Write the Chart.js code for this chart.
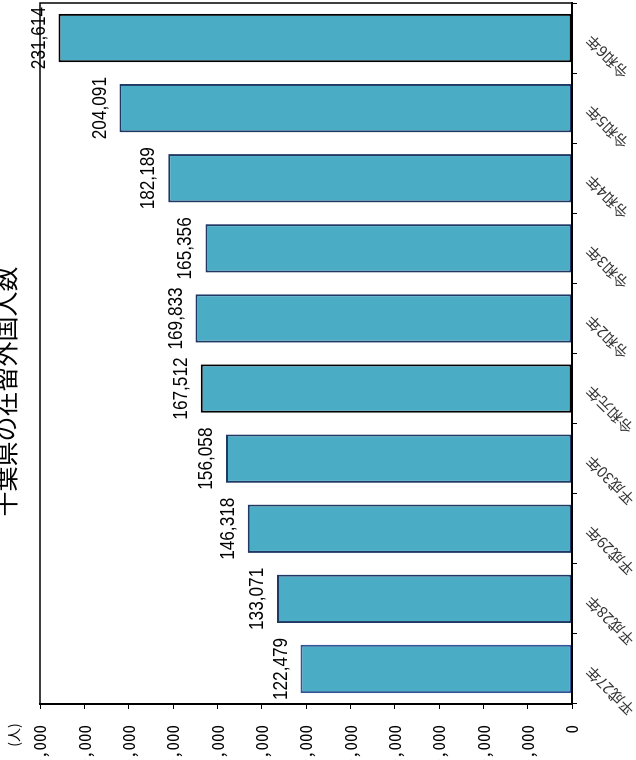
<!DOCTYPE html>
<html>
<head>
<meta charset="utf-8">
<script src="https://cdn.jsdelivr.net/npm/chart.js@4.4.1/dist/chart.umd.min.js"></script>
<style>
  html, body { margin: 0; padding: 0; background: #fff; overflow: hidden; width: 636px; height: 760px; }
  #wrap { position: absolute; left: 0; top: 0; width: 780px; height: 680px; transform-origin: 0 0; transform: matrix(0, -1, 1, 0, -10, 780); }
</style>
</head>
<body>
<div id="wrap"><canvas id="chart" width="780" height="680"></canvas></div>
<script>
const years = ['平成27年', '平成28年', '平成29年', '平成30年', '令和元年', '令和2年', '令和3年', '令和4年', '令和5年', '令和6年'];
const residents = [122479, 133071, 146318, 156058, 167512, 169833, 165356, 182189, 204091, 231614];
const edgeColors = ['#2f5597', '#1f3864', '#1f3864', '#1f3864', '#000000', '#1f3864', '#1f3864', '#1f3864', '#1f3864', '#000000'];
const axisMax = 240000;
const axisStep = 20000;

const latin = "'Liberation Sans', Arial, sans-serif";
const mono = "'Noto Sans Mono CJK JP', 'Liberation Sans', sans-serif";
const jp = "'Noto Sans CJK JP', sans-serif";

// value labels above each bar + frame round the plot area + unit label
const extras = {
  id: 'extras',
  afterDatasetsDraw(chart) {
    const ctx = chart.ctx;
    const area = chart.chartArea;
    ctx.save();
    ctx.strokeStyle = '#000';
    ctx.lineWidth = 1.5;
    ctx.strokeRect(area.left, area.top, area.right - area.left, area.bottom - area.top);
    ctx.fillStyle = '#000';
    ctx.font = '21px ' + latin;
    ctx.textAlign = 'center';
    ctx.textBaseline = 'alphabetic';
    chart.getDatasetMeta(0).data.forEach((bar, i) => {
      ctx.save();
      ctx.translate(bar.x, bar.y - 14);
      ctx.scale(0.82, 1); // condensed look of the original digits
      ctx.fillText(residents[i].toLocaleString('en-US'), 0, 0);
      ctx.restore();
    });
    ctx.font = '14px ' + jp;
    ctx.textBaseline = 'middle';
    ctx.fillText('(人)', 45, 24);
    ctx.restore();
  }
};

new Chart(document.getElementById('chart'), {
  type: 'bar',
  data: {
    labels: years,
    datasets: [{
      data: residents,
      backgroundColor: '#4bacc6',
      borderColor: edgeColors,
      borderWidth: 2,
      borderSkipped: false,
      barPercentage: 0.69,
      categoryPercentage: 1
    }]
  },
  options: {
    responsive: false,
    animation: false,
    devicePixelRatio: 1,
    layout: { padding: { left: 0, right: 3, top: 0, bottom: 0 } },
    plugins: {
      legend: { display: false },
      tooltip: { enabled: false },
      title: {
        display: true,
        text: '千葉県の在留外国人数',
        color: '#000',
        font: { family: jp, size: 25, weight: 'normal' },
        padding: { top: 0, bottom: 20 }
      }
    },
    scales: {
      x: {
        afterFit: s => { s.height = 98; },
        grid: { display: true, drawOnChartArea: false, drawTicks: true, tickLength: 5, color: '#000' },
        border: { display: true, color: '#000', width: 2 },
        ticks: {
          color: '#333',
          font: { family: jp, size: 15 },
          minRotation: 45,
          maxRotation: 45,
          autoSkip: false,
          padding: 5
        }
      },
      y: {
        min: 0,
        max: axisMax,
        afterFit: s => { s.width = 76; },
        grid: { display: true, drawOnChartArea: false, drawTicks: true, tickLength: 5, color: '#000' },
        border: { display: true, color: '#000', width: 2 },
        ticks: {
          stepSize: axisStep,
          color: '#000',
          padding: 16,
          font: { family: mono, size: 17 },
          callback: v => v.toLocaleString('en-US')
        }
      }
    }
  },
  plugins: [extras]
});
</script>
</body>
</html>
